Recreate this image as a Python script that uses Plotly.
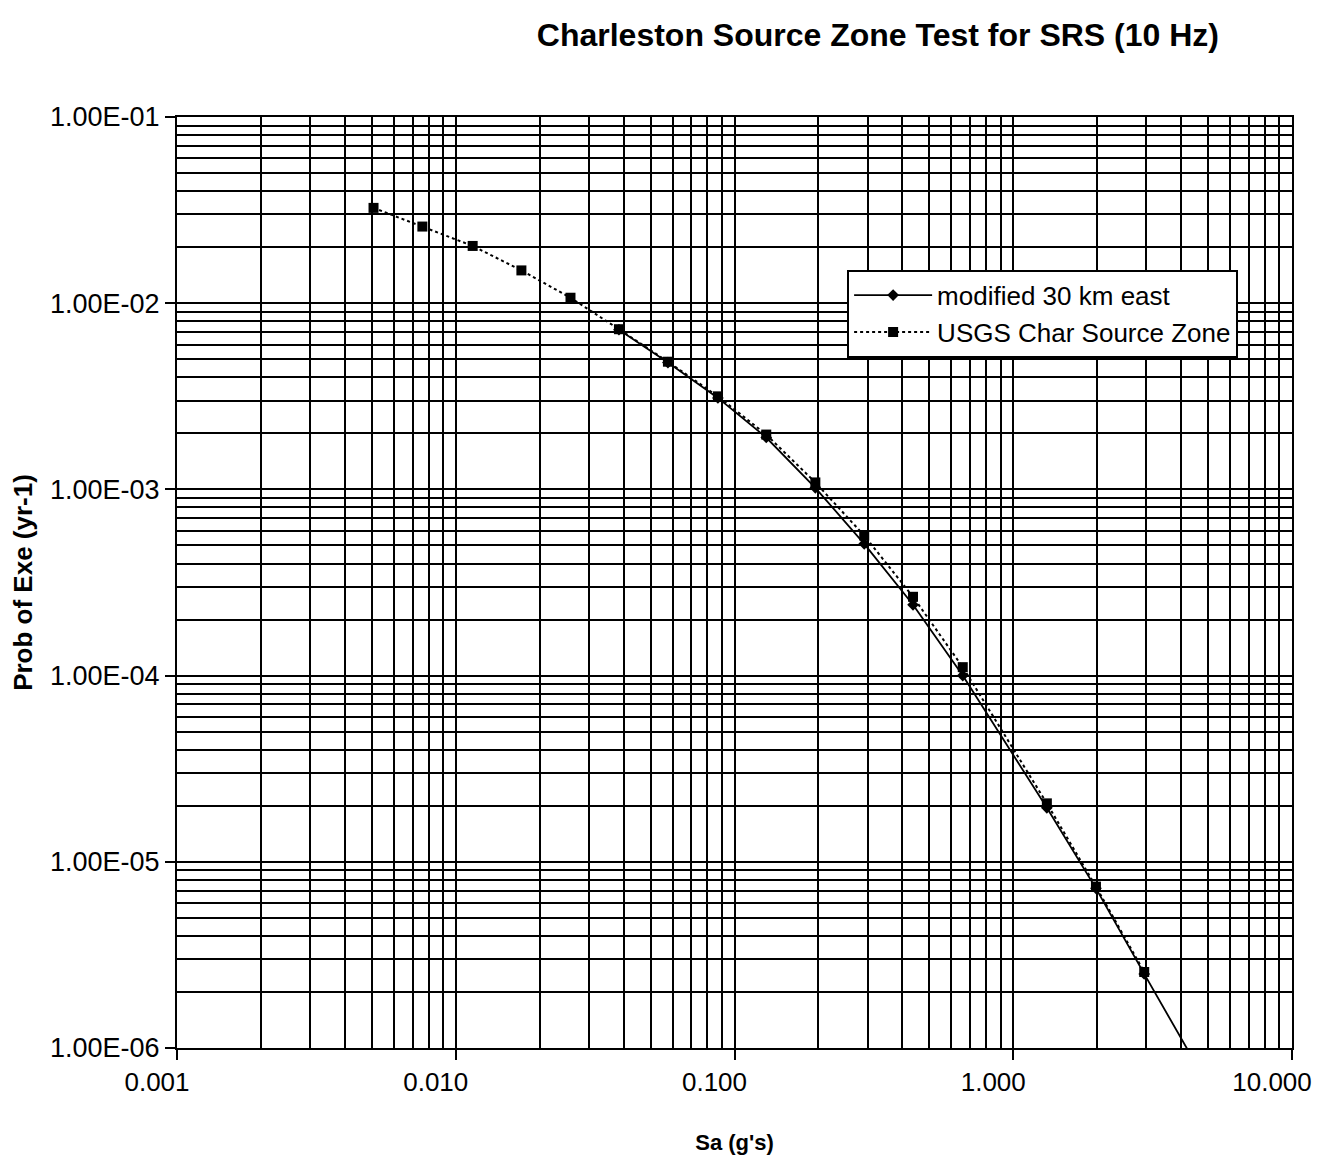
import plotly.graph_objects as go

# ---- data ----
usgs_x = [0.00507, 0.00759, 0.0115, 0.0172, 0.0258, 0.0385, 0.0577, 0.0872,
          0.130, 0.195, 0.292, 0.437, 0.659, 1.32, 1.98, 2.95]
usgs_y = [0.0325, 0.0258, 0.0203, 0.0150, 0.0107, 0.00725, 0.00485, 0.00316,
          0.00197, 0.00109, 0.000565, 0.000265, 0.000111, 2.06e-5, 7.36e-6, 2.56e-6]

mod_x = [0.0385, 0.0577, 0.0872, 0.130, 0.195, 0.292, 0.437, 0.659,
         1.32, 1.98, 2.95, 4.4]
mod_y = [0.0072, 0.0048, 0.0031, 0.00190, 0.00102, 0.00051, 0.000240, 0.000100,
         1.95e-5, 7.2e-6, 2.5e-6, 8.8e-7]

x_major = [0.001, 0.01, 0.1, 1, 10]
x_major_text = ["0.001", "0.010", "0.100", "1.000", "10.000"]
y_major = [1e-6, 1e-5, 1e-4, 1e-3, 1e-2, 1e-1]
y_major_text = ["1.00E-06", "1.00E-05", "1.00E-04", "1.00E-03", "1.00E-02", "1.00E-01"]

title = "Charleston Source Zone Test for SRS (10 Hz)"
x_title = "Sa (g's)"
y_title = "Prob of Exe (yr-1)"
name_mod = "modified 30 km east"
name_usgs = "USGS Char Source Zone"

x_minor = [m * d for d in [0.001, 0.01, 0.1, 1] for m in range(2, 10)]
y_minor = [m * d for d in [1e-6, 1e-5, 1e-4, 1e-3, 1e-2] for m in range(2, 10)]

FONT = "Liberation Sans, Arial, sans-serif"

fig = go.Figure()
fig.add_trace(go.Scatter(
    x=mod_x, y=mod_y, name=name_mod, mode="lines+markers",
    line=dict(color="black", width=1.8),
    marker=dict(symbol="diamond", size=9, color="black"),
))
fig.add_trace(go.Scatter(
    x=usgs_x, y=usgs_y, name=name_usgs, mode="lines+markers",
    line=dict(color="black", width=2, dash="dot"),
    marker=dict(symbol="square", size=10, color="black"),
))

fig.update_layout(
    width=1316, height=1156,
    paper_bgcolor="white", plot_bgcolor="white",
    margin=dict(l=169, r=27, t=109, b=116),
    font=dict(family=FONT, color="black", size=24),
    title=dict(text="<b>" + title + "</b>", x=0.661, xref="container", xanchor="center",
               y=0.977, yref="container", yanchor="middle",
               font=dict(family=FONT, size=32, color="black")),
    showlegend=True,
    legend=dict(x=0.601, y=0.836, xanchor="left", yanchor="top",
                bgcolor="white", bordercolor="black", borderwidth=2,
                font=dict(family=FONT, size=26, color="black"),
                tracegroupgap=0, itemwidth=78),
)

fig.update_xaxes(
    type="log", range=[-3, 1],
    tickmode="array", tickvals=x_major, ticktext=x_major_text,
    ticks="outside", ticklen=10, tickwidth=2, tickcolor="black",
    tickfont=dict(family=FONT, size=26, color="black"),
    ticklabelshift=-20, ticklabeloverflow="allow",
    showgrid=True, gridcolor="black", gridwidth=2,
    minor=dict(tickmode="array", tickvals=x_minor, showgrid=True,
               gridcolor="black", gridwidth=1.6, ticks=""),
    showline=True, linecolor="black", linewidth=2, mirror=True,
    zeroline=False,
    title=dict(text="<b>" + x_title + "</b>", font=dict(family=FONT, size=22, color="black"),
               standoff=38),
)
fig.update_yaxes(
    type="log", range=[-6, -1],
    tickmode="array", tickvals=y_major, ticktext=y_major_text,
    ticks="outside", ticklen=10, tickwidth=2, tickcolor="black",
    tickfont=dict(family=FONT, size=27, color="black"),
    showgrid=True, gridcolor="black", gridwidth=2,
    minor=dict(tickmode="array", tickvals=y_minor, showgrid=True,
               gridcolor="black", gridwidth=1.6, ticks=""),
    showline=True, linecolor="black", linewidth=2, mirror=True,
    zeroline=False,
    title=dict(text="<b>" + y_title + "</b>", font=dict(family=FONT, size=26, color="black"),
               standoff=10),
)

fig.write_html("out.html")
